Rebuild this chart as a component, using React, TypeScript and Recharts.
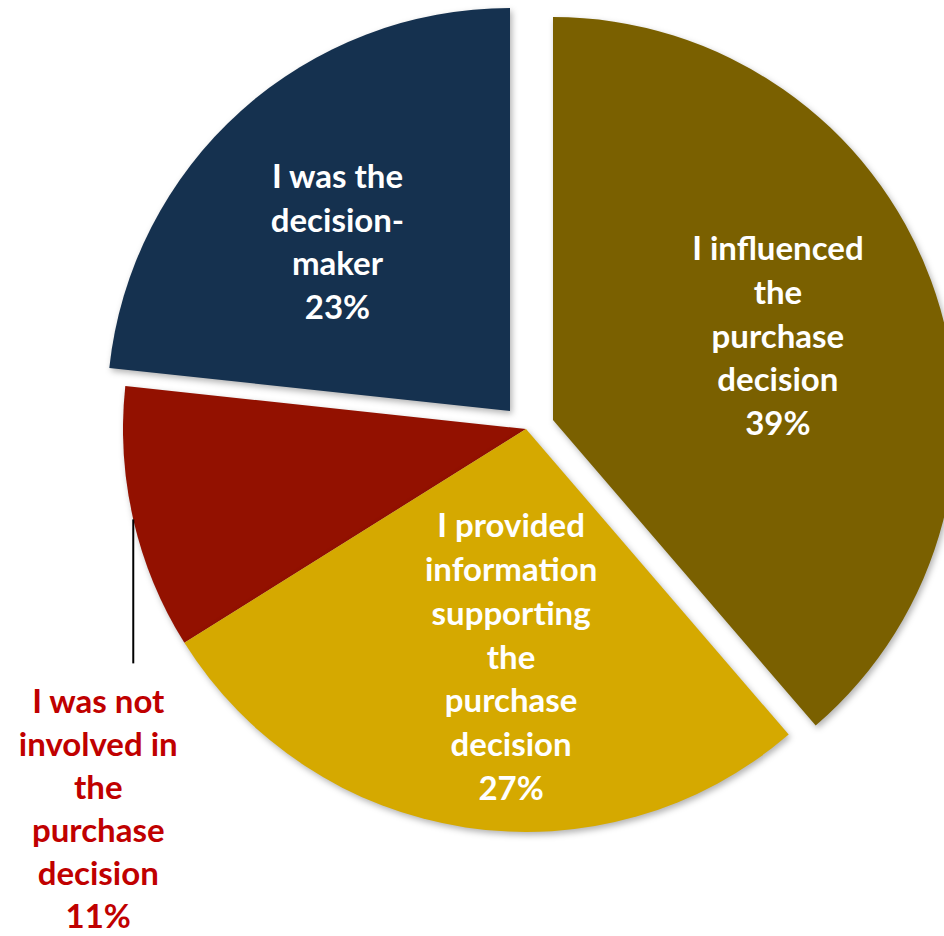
import React from "react";
import { PieChart, Pie, Cell } from "recharts";

// ---- data ----
const categories = [
  "I influenced the purchase decision",
  "I provided information supporting the purchase decision",
  "I was not involved in the purchase decision",
  "I was the decision-maker",
];
const shares = [38.7, 27.4, 10.6, 23.3];
const labelLines = [
  ["I influenced", "the", "purchase", "decision"],
  ["I provided", "information", "supporting", "the", "purchase", "decision"],
  ["I was not", "involved in", "the", "purchase", "decision"],
  ["I was the", "decision-", "maker"],
];

// ---- styling / layout ----
const COLORS = ["#7A6000", "#D5A900", "#931100", "#15314F"];
const OUTER_R = 403;
// pie centres (exploded slices are shifted)
const CENTERS = [
  { x: 553, y: 420 },
  { x: 526, y: 429 },
  { x: 526, y: 429 },
  { x: 510, y: 411 },
];
// label placement inside slices: radius and angle nudge
const LABEL_POS: Record<number, { r: number; dA: number }> = {
  0: { r: 240, dA: 0.1 },
  1: { r: 228.5, dA: 4.9 },
  3: { r: 241.5, dA: 3.65 },
};
const DRAW_ORDER = [3, 2, 0, 1];
const LH = 43.8;
const LH_OUT = 43;
const FONT = "Lato, 'Open Sans', sans-serif";

const data = categories.map((name, i) => ({ name, value: shares[i] }));

const polar = (cx: number, cy: number, r: number, deg: number) => {
  const rad = (deg * Math.PI) / 180;
  return { x: cx + r * Math.cos(rad), y: cy - r * Math.sin(rad) };
};

function renderLabel(p: any) {
  const i = p.index;
  const lines = [...labelLines[i], `${Math.round(p.value)}%`];
  if (i === 2) {
    const o = polar(p.cx, p.cy, p.outerRadius, p.midAngle);
    const tx = o.x - 35;
    const first = o.y + 194;
    return (
      <g key={`lbl-${i}`}>
        <line x1={o.x} y1={o.y} x2={o.x} y2={o.y + 144} stroke="#000" strokeWidth={2} />
        <text textAnchor="middle" fill="#C00000" fontFamily={FONT} fontWeight="bold" fontSize={33}>
          {lines.map((l, k) => (
            <tspan key={k} x={tx} y={first + k * LH_OUT}>
              {l}
            </tspan>
          ))}
        </text>
      </g>
    );
  }
  const lp = LABEL_POS[i];
  const a = polar(p.cx, p.cy, lp.r, p.midAngle + lp.dA);
  const first = a.y - ((lines.length - 1) * LH) / 2 + 11.5;
  return (
    <text key={`lbl-${i}`} textAnchor="middle" fill="#FFFFFF" fontFamily={FONT} fontWeight="bold" fontSize={33}>
      {lines.map((l, k) => (
        <tspan key={k} x={a.x} y={first + k * LH}>
          {l}
        </tspan>
      ))}
    </text>
  );
}

export default function App() {
  return (
    <div style={{ position: "absolute", left: 0, top: 0, width: 944, height: 936, background: "#fff", overflow: "hidden" }}>
      <style>{`.recharts-sector{filter:drop-shadow(2px 3px 3px rgba(0,0,0,0.3));}`}</style>
      <PieChart width={944} height={936} margin={{ top: 0, right: 0, bottom: 0, left: 0 }}>
        {DRAW_ORDER.map((v) => (
          <Pie
            key={v}
            data={data}
            dataKey="value"
            nameKey="name"
            cx={CENTERS[v].x}
            cy={CENTERS[v].y}
            innerRadius={0}
            outerRadius={OUTER_R}
            startAngle={90}
            endAngle={-270}
            stroke="none"
            isAnimationActive={false}
            labelLine={false}
            label={(p: any) => (p.index === v ? renderLabel(p) : null)}
          >
            {data.map((d, i) => (
              <Cell key={d.name} fill={i === v ? COLORS[i] : "transparent"} />
            ))}
          </Pie>
        ))}
      </PieChart>
    </div>
  );
}
